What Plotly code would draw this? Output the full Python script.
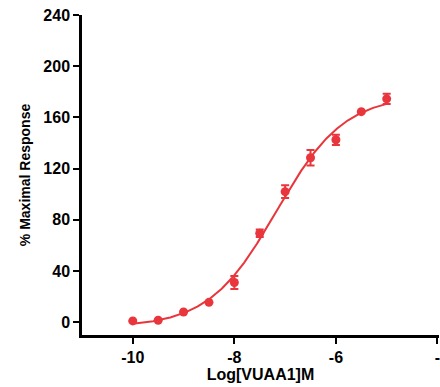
import numpy as np
import plotly.graph_objects as go

log_conc = [-10, -9.5, -9, -8.5, -8, -7.5, -7, -6.5, -6, -5.5, -5]
response = [1, 1.5, 8, 15.5, 31, 69.5, 102, 128.5, 142.5, 164.5, 174.5]
sem = [0, 0, 0, 0, 5, 3, 5, 6, 4, 0, 4]

x_ticks = [-10, -8, -6, -4]
x_tick_labels = ["-10", "-8", "-6", "\u00a0\u00a0-4"]
y_ticks = [0, 40, 80, 120, 160, 200, 240]

red = "#e8363c"

# four-parameter logistic fit (grid search on EC50 / Hill, linear LSQ for bottom/top)
xd = np.array(log_conc, float)
yd = np.array(response, float)
best = None
for c in np.linspace(-8.5, -6, 251):
    for h in np.linspace(0.3, 1.5, 121):
        s = 1.0 / (1.0 + 10 ** ((c - xd) * h))
        A = np.vstack([1 - s, s]).T
        coef, *_ = np.linalg.lstsq(A, yd, rcond=None)
        err = np.sum((A @ coef - yd) ** 2)
        if best is None or err < best[0]:
            best = (err, c, h, coef)
_, c, h, (bot, top) = best
xf = np.linspace(min(log_conc), max(log_conc), 300)
yf = bot + (top - bot) / (1.0 + 10 ** ((c - xf) * h))

fig = go.Figure()
fig.add_trace(go.Scatter(x=xf, y=yf, mode="lines",
                         line=dict(color=red, width=2), hoverinfo="skip"))
fig.add_trace(go.Scatter(x=log_conc, y=response, mode="markers",
                         marker=dict(color=red, size=9),
                         error_y=dict(type="data", array=sem, color=red,
                                      thickness=2, width=4)))

font = dict(family="Liberation Sans, Arial, sans-serif", color="black", weight="bold")
fig.update_layout(
    width=440, height=387,
    margin=dict(l=82, r=1, t=15, b=52, autoexpand=False),
    paper_bgcolor="white", plot_bgcolor="white",
    showlegend=False,
    xaxis=dict(range=[-11, -3.97], tickvals=x_ticks, ticktext=x_tick_labels,
               showgrid=False, zeroline=False, showline=True, linecolor="black",
               linewidth=2.5, ticks="outside", ticklen=6, tickwidth=2, tickcolor="black",
               tickfont=dict(size=16, **font), ticklabeloverflow="allow",
               automargin=False,
               title=dict(text="Log[VUAA1]M", font=dict(size=16, **font), standoff=2)),
    yaxis=dict(range=[-10, 240], tickvals=y_ticks, ticktext=[str(v) for v in y_ticks],
               showgrid=False, zeroline=False, showline=True, linecolor="black",
               linewidth=2.5, ticks="outside", ticklen=6, tickwidth=2, tickcolor="black",
               tickfont=dict(size=16, **font), automargin=False,
               title=dict(text="% Maximal Response", font=dict(size=14, **font), standoff=10)),
)
fig.write_html("out.html")
